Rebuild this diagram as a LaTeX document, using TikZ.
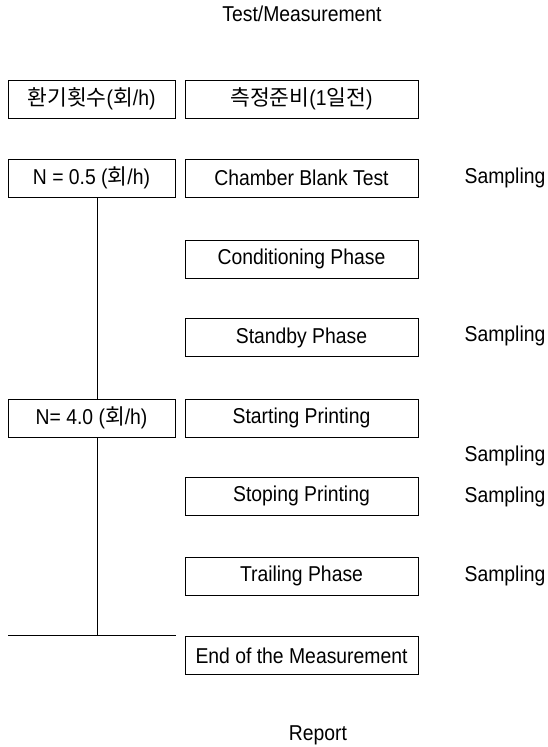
\documentclass[tikz,border=0pt]{standalone}
\usepackage{fontspec}
\setmainfont{Liberation Sans}[FakeStretch=0.9]
\newfontfamily\kr{Noto Sans CJK KR}
\begin{document}
\begin{tikzpicture}[x=1pt,y=1pt,
  box/.style={draw,line width=0.8pt,minimum height=38pt,inner sep=0pt,font=\fontsize{21.5}{24}\selectfont},
  lbox/.style={box,minimum width=167pt},
  rbox/.style={box,minimum width=233pt},
  lab/.style={font=\fontsize{21.5}{24}\selectfont,inner sep=0pt},
  ln/.style={line width=0.8pt}]
\useasboundingbox (0,0) rectangle (547,747);
\node[lab] (title) at (302,733) {Test/Measurement};
\node[lbox] (hw) at (91.5,648) {{\kr 환기횟수}({\kr 회}/h)};
\node[rbox] (prep) at (301.5,648) {{\kr 측정준비}(1{\kr 일전})};
\node[lbox] (n05) at (91.5,569) {N = 0.5 ({\kr 회}/h)};
\node[rbox] (cbt) at (301.5,569) {Chamber Blank Test};
\node[rbox] (cond) at (301.5,488) {Conditioning Phase};
\node[rbox] (stby) at (301.5,409.5) {Standby Phase};
\node[lbox] (n40) at (91.5,329) {N= 4.0 ({\kr 회}/h)};
\node[rbox] (start) at (301.5,329) {Starting Printing};
\node[rbox] (stop) at (301.5,251) {Stoping Printing};
\node[rbox] (trail) at (301.5,171) {Trailing Phase};
\node[rbox] (endm) at (301.5,91.5) {End of the Measurement};
\node[lab] (s1) at (505,569) {Sampling};
\node[lab] (s2) at (505,411) {Sampling};
\node[lab] (s3) at (505,291) {Sampling};
\node[lab] (s4) at (505,250) {Sampling};
\node[lab] (s5) at (505,171) {Sampling};
\node[lab] (rep) at (318,12) {Report};
\coordinate (j) at (97,112);
\coordinate (hl) at (8,112);
\coordinate (hr) at (176,112);
\draw[ln] (n05.south -| j) -- (n40.north -| j);
\draw[ln] (n40.south -| j) -- (j);
\draw[ln] (hl) -- (hr);
\end{tikzpicture}
\end{document}
